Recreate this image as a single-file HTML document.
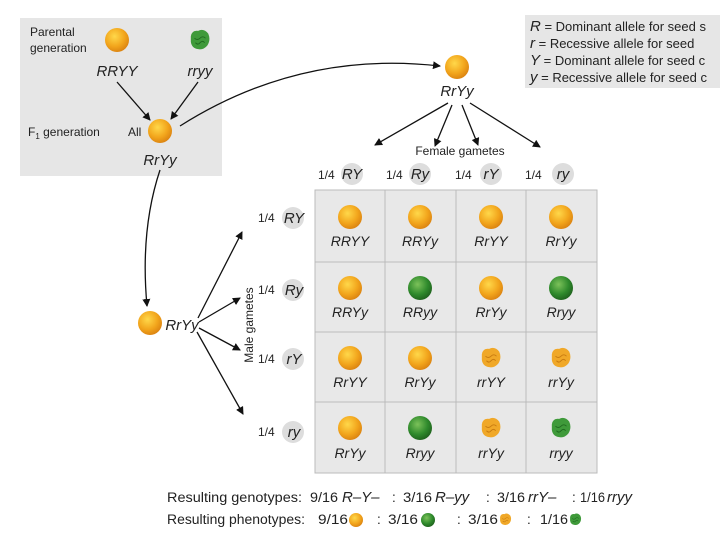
<!DOCTYPE html>
<html><head><style>body{margin:0;background:#fff}svg{display:block}</style></head><body>
<svg width="720" height="540" viewBox="0 0 720 540" font-family="Liberation Sans, sans-serif">
<defs>
<radialGradient id="y" cx="0.4" cy="0.35" r="0.7"><stop offset="0" stop-color="#ffd84a"/><stop offset="0.6" stop-color="#f2a51c"/><stop offset="1" stop-color="#d98010"/></radialGradient>
<radialGradient id="g" cx="0.4" cy="0.35" r="0.7"><stop offset="0" stop-color="#7cc25a"/><stop offset="0.6" stop-color="#2f8a2c"/><stop offset="1" stop-color="#1d5e1c"/></radialGradient>
<marker id="a" markerWidth="8" markerHeight="8" refX="7" refY="4" orient="auto" markerUnits="userSpaceOnUse"><path d="M0,0 L8,4 L0,8 z" fill="#111"/></marker>
<symbol id="Y" viewBox="-12 -12 24 24"><circle r="12" fill="url(#y)"/></symbol>
<symbol id="G" viewBox="-12 -12 24 24"><circle r="12" fill="url(#g)"/></symbol>
<symbol id="WY" viewBox="-12 -12 24 24"><path d="M-10,-4 Q-9,-11 -2,-10 Q4,-13 9,-7 Q12,0 8,6 Q4,11 -2,10 Q-9,9 -10,2 Z" fill="#f0a828"/><path d="M-6,-2 q3,3 6,0 q3,-3 6,0 M-5,3 q3,3 5,0 q3,-3 5,0" stroke="#c77a10" fill="none"/></symbol>
<symbol id="WG" viewBox="-12 -12 24 24"><path d="M-10,-4 Q-9,-11 -2,-10 Q4,-13 9,-7 Q12,0 8,6 Q4,11 -2,10 Q-9,9 -10,2 Z" fill="#3f9a3a"/><path d="M-6,-2 q3,3 6,0 q3,-3 6,0 M-5,3 q3,3 5,0 q3,-3 5,0" stroke="#1f6a1f" fill="none"/></symbol>
</defs>
<rect x="20" y="18" width="202" height="158" fill="#e6e6e6"/>
<rect x="525" y="15" width="195" height="73" fill="#e6e6e6"/>
<g font-size="12" fill="#222">
<text x="30" y="36">Parental</text><text x="30" y="52">generation</text>
<text x="28" y="136">F<tspan font-size="8" dy="3">1</tspan><tspan dy="-3"> generation</tspan></text>
<text x="128" y="136">All</text>
<g font-size="13">
<text x="530" y="31"><tspan font-style="italic" font-size="15">R</tspan> = Dominant allele for seed s</text>
<text x="530" y="48"><tspan font-style="italic" font-size="15">r</tspan>  = Recessive allele for seed</text>
<text x="530" y="65"><tspan font-style="italic" font-size="15">Y</tspan> = Dominant allele for seed c</text>
<text x="530" y="82"><tspan font-style="italic" font-size="15">y</tspan> = Recessive allele for seed c</text>
</g>
<text x="460" y="155" text-anchor="middle">Female gametes</text>
<text x="253" y="325" text-anchor="middle" transform="rotate(-90 253 325)">Male gametes</text>
</g>
<use href="#Y" x="105" y="28" width="24" height="24"/>
<use href="#WG" x="189" y="29" width="22" height="22"/>
<use href="#Y" x="148" y="119" width="24" height="24"/>
<use href="#Y" x="445" y="55" width="24" height="24"/>
<use href="#Y" x="138" y="311" width="24" height="24"/>
<g font-size="15" font-style="italic" fill="#222" text-anchor="middle">
<text x="117" y="76">RRYY</text><text x="200" y="76">rryy</text>
<text x="160" y="165">RrYy</text><text x="457" y="96">RrYy</text>
<text x="182" y="330">RrYy</text>
</g>
<g stroke="#111" stroke-width="1.3" fill="none" marker-end="url(#a)">
<line x1="117" y1="82" x2="150" y2="120"/><line x1="198" y1="82" x2="171" y2="119"/>
<path d="M180,126 Q300,50 440,66"/>
<path d="M160,170 Q140,230 147,306"/>
<line x1="448" y1="103" x2="375" y2="145"/><line x1="452" y1="105" x2="435" y2="146"/>
<line x1="462" y1="105" x2="478" y2="145"/><line x1="470" y1="103" x2="540" y2="147"/>
<line x1="198" y1="318" x2="242" y2="232"/><line x1="199" y1="322" x2="240" y2="298"/>
<line x1="199" y1="328" x2="240" y2="350"/><line x1="197" y1="332" x2="243" y2="414"/>
</g>
<g fill="#ddd">
<circle cx="352" cy="174" r="11"/><circle cx="420" cy="174" r="11"/><circle cx="491" cy="174" r="11"/><circle cx="563" cy="174" r="11"/>
<circle cx="293" cy="218" r="11"/><circle cx="293" cy="290" r="11"/><circle cx="293" cy="359" r="11"/><circle cx="293" cy="432" r="11"/>
</g>
<g font-size="12" fill="#222">
<text x="318" y="179">1/4</text><text x="386" y="179">1/4</text><text x="455" y="179">1/4</text><text x="525" y="179">1/4</text>
<text x="258" y="222">1/4</text><text x="258" y="294">1/4</text><text x="258" y="363">1/4</text><text x="258" y="436">1/4</text>
</g>
<g font-size="15" font-style="italic" fill="#222" text-anchor="middle">
<text x="352" y="179">RY</text><text x="420" y="179">Ry</text><text x="491" y="179">rY</text><text x="563" y="179">ry</text>
<text x="294" y="223">RY</text><text x="294" y="295">Ry</text><text x="294" y="364">rY</text><text x="294" y="437">ry</text>
</g>
<rect x="315" y="190" width="282" height="283" fill="#e8e8e8" stroke="#bbb"/>
<g stroke="#bbb"><line x1="385" y1="190" x2="385" y2="473"/><line x1="456" y1="190" x2="456" y2="473"/><line x1="526" y1="190" x2="526" y2="473"/>
<line x1="315" y1="262" x2="597" y2="262"/><line x1="315" y1="332" x2="597" y2="332"/><line x1="315" y1="402" x2="597" y2="402"/></g>
<g>
<use href="#Y" x="338" y="205" width="24" height="24"/><use href="#Y" x="408" y="205" width="24" height="24"/><use href="#Y" x="479" y="205" width="24" height="24"/><use href="#Y" x="549" y="205" width="24" height="24"/>
<use href="#Y" x="338" y="276" width="24" height="24"/><use href="#G" x="408" y="276" width="24" height="24"/><use href="#Y" x="479" y="276" width="24" height="24"/><use href="#G" x="549" y="276" width="24" height="24"/>
<use href="#Y" x="338" y="346" width="24" height="24"/><use href="#Y" x="408" y="346" width="24" height="24"/><use href="#WY" x="480" y="347" width="22" height="22"/><use href="#WY" x="550" y="347" width="22" height="22"/>
<use href="#Y" x="338" y="416" width="24" height="24"/><use href="#G" x="408" y="416" width="24" height="24"/><use href="#WY" x="480" y="417" width="22" height="22"/><use href="#WG" x="550" y="417" width="22" height="22"/>
</g>
<g font-size="14" font-style="italic" fill="#222" text-anchor="middle">
<text x="350" y="246">RRYY</text><text x="420" y="246">RRYy</text><text x="491" y="246">RrYY</text><text x="561" y="246">RrYy</text>
<text x="350" y="317">RRYy</text><text x="420" y="317">RRyy</text><text x="491" y="317">RrYy</text><text x="561" y="317">Rryy</text>
<text x="350" y="387">RrYY</text><text x="420" y="387">RrYy</text><text x="491" y="387">rrYY</text><text x="561" y="387">rrYy</text>
<text x="350" y="458">RrYy</text><text x="420" y="458">Rryy</text><text x="491" y="458">rrYy</text><text x="561" y="458">rryy</text>
</g>
<g font-size="13.5" fill="#222">
<text x="167" y="502" textLength="135" lengthAdjust="spacingAndGlyphs">Resulting genotypes:</text>
<text x="310" y="502" textLength="28" lengthAdjust="spacingAndGlyphs">9/16</text><text x="342" y="502" font-style="italic" font-size="15">R–Y–</text>
<text x="392" y="502">:</text><text x="403" y="502" textLength="29" lengthAdjust="spacingAndGlyphs">3/16</text><text x="435" y="502" font-style="italic" font-size="15">R–yy</text>
<text x="486" y="502">:</text><text x="497" y="502" textLength="28" lengthAdjust="spacingAndGlyphs">3/16</text><text x="528" y="502" font-style="italic" font-size="15">rrY–</text>
<text x="572" y="502">:</text><text x="580" y="502" textLength="25" lengthAdjust="spacingAndGlyphs">1/16</text><text x="607" y="502" font-style="italic" font-size="15">rryy</text>
<text x="167" y="524" textLength="138" lengthAdjust="spacingAndGlyphs">Resulting phenotypes:</text>
<text x="318" y="524" textLength="30" lengthAdjust="spacingAndGlyphs">9/16</text>
<text x="377" y="524">:</text><text x="388" y="524" textLength="30" lengthAdjust="spacingAndGlyphs">3/16</text>
<text x="457" y="524">:</text><text x="468" y="524" textLength="30" lengthAdjust="spacingAndGlyphs">3/16</text>
<text x="527" y="524">:</text><text x="540" y="524" textLength="28" lengthAdjust="spacingAndGlyphs">1/16</text>
</g>
<use href="#Y" x="349" y="513" width="14" height="14"/><use href="#G" x="421" y="513" width="14" height="14"/>
<use href="#WY" x="499" y="513" width="13" height="13"/><use href="#WG" x="569" y="513" width="13" height="13"/>
</svg>
</body></html>
